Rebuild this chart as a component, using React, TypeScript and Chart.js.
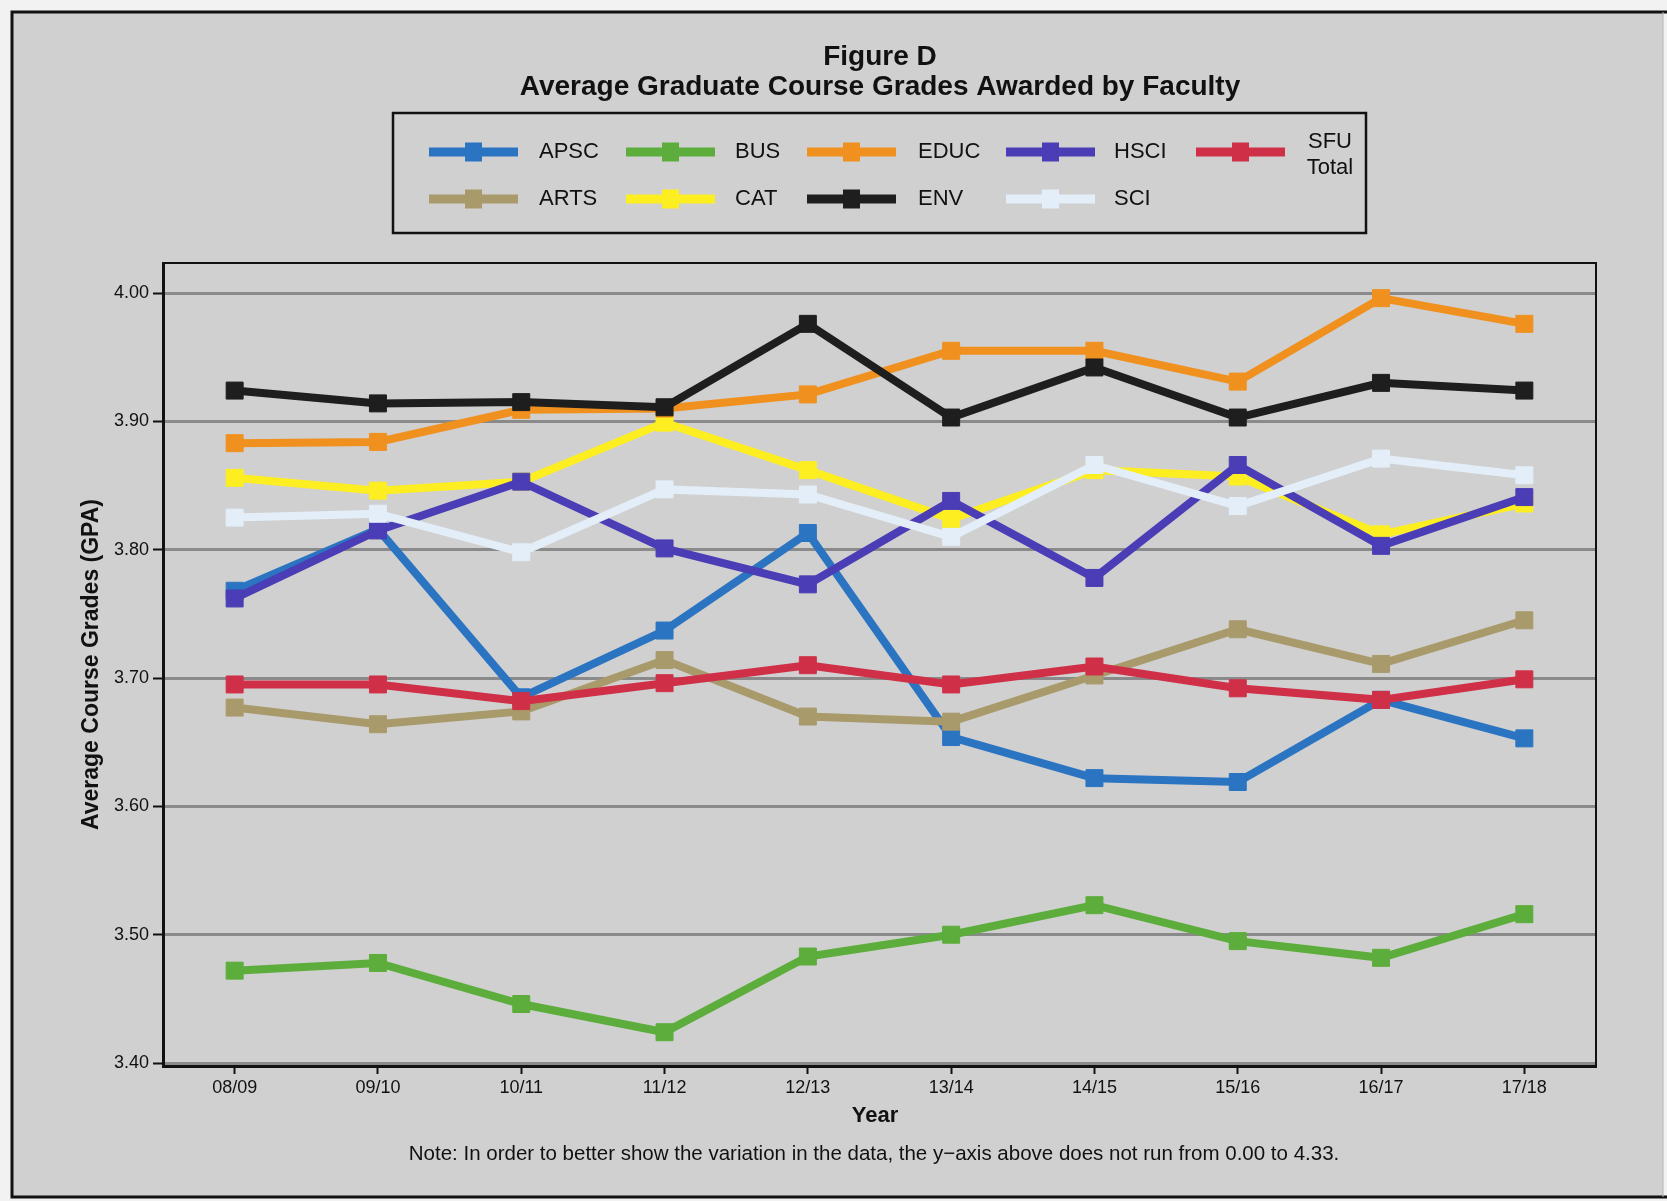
import { useEffect, useRef } from "react";
import { Chart, registerables } from "chart.js";

Chart.register(...registerables);

// ---------- data ----------
const years = ["08/09", "09/10", "10/11", "11/12", "12/13", "13/14", "14/15", "15/16", "16/17", "17/18"];

const apsc = [3.768, 3.816, 3.685, 3.737, 3.813, 3.654, 3.622, 3.619, 3.683, 3.653];
const arts = [3.677, 3.664, 3.674, 3.714, 3.670, 3.666, 3.702, 3.738, 3.711, 3.745];
const bus = [3.472, 3.478, 3.446, 3.424, 3.483, 3.500, 3.523, 3.495, 3.482, 3.516];
const cat = [3.856, 3.846, 3.853, 3.899, 3.862, 3.824, 3.862, 3.857, 3.812, 3.836];
const educ = [3.883, 3.884, 3.909, 3.910, 3.921, 3.955, 3.955, 3.931, 3.996, 3.976];
const env = [3.924, 3.914, 3.915, 3.911, 3.976, 3.903, 3.942, 3.903, 3.930, 3.924];
const hsci = [3.762, 3.815, 3.853, 3.801, 3.773, 3.838, 3.778, 3.866, 3.803, 3.841];
const sci = [3.825, 3.828, 3.798, 3.847, 3.843, 3.810, 3.866, 3.834, 3.871, 3.858];
const sfuTotal = [3.695, 3.695, 3.682, 3.696, 3.710, 3.695, 3.709, 3.692, 3.683, 3.699];

const seriesNames = ["APSC", "ARTS", "BUS", "CAT", "EDUC", "ENV", "HSCI", "SCI", "SFU Total"];
const seriesValues = [apsc, arts, bus, cat, educ, env, hsci, sci, sfuTotal];
const seriesColors = [
  "#2b74c2", // APSC
  "#a99a6c", // ARTS
  "#5cad3b", // BUS
  "#fdee22", // CAT
  "#f0901e", // EDUC
  "#1e1e1e", // ENV
  "#4b3db5", // HSCI
  "#e3eef8", // SCI
  "#cf3048", // SFU Total
];

const yTicks = [3.4, 3.5, 3.6, 3.7, 3.8, 3.9, 4.0];

const titleLine1 = "Figure D";
const titleLine2 = "Average Graduate Course Grades Awarded by Faculty";
const xTitle = "Year";
const yTitle = "Average Course Grades (GPA)";
const noteText = "Note: In order to better show the variation in the data, the y\u2212axis above does not run from 0.00 to 4.33.";

// ---------- layout constants ----------
const W = 1667;
const H = 1201;
const BG = "#d0d0d0";
const FONT = "'Liberation Sans', Arial, Helvetica, sans-serif";

const legendSymbolX = [429, 626, 807, 1006, 1196];
const legendTextX = [539, 735, 918, 1114, 1306];
const legendRowY = [152, 199];

const decorPlugin = {
  id: "decor",
  beforeDraw(chart: any) {
    const ctx = chart.ctx;
    ctx.save();
    ctx.fillStyle = "#f2f2f2";
    ctx.fillRect(0, 0, W, H);
    ctx.fillStyle = BG;
    ctx.fillRect(12, 12, 1651, 1185);
    ctx.restore();
  },
  afterDraw(chart: any) {
    const ctx = chart.ctx;
    const area = chart.chartArea;
    ctx.save();

    // outer frame
    ctx.strokeStyle = "#111";
    ctx.lineWidth = 3;
    ctx.beginPath();
    ctx.moveTo(1667, 12);
    ctx.lineTo(12, 12);
    ctx.lineTo(12, 1197);
    ctx.lineTo(1667, 1197);
    ctx.stroke();
    ctx.strokeStyle = "#b4b4b4";
    ctx.lineWidth = 1;
    ctx.beginPath();
    ctx.moveTo(1663, 12);
    ctx.lineTo(1663, 1197);
    ctx.stroke();

    // plot frame (top & right)
    ctx.strokeStyle = "#111";
    ctx.lineWidth = 2;
    ctx.beginPath();
    ctx.moveTo(area.left, area.top);
    ctx.lineTo(area.right, area.top);
    ctx.lineTo(area.right, area.bottom);
    ctx.stroke();

    // titles
    ctx.fillStyle = "#111";
    ctx.textAlign = "center";
    ctx.textBaseline = "alphabetic";
    ctx.font = `bold 28px ${FONT}`;
    ctx.fillText(titleLine1, 880, 65);
    ctx.fillText(titleLine2, 880, 95);

    // legend box
    ctx.strokeStyle = "#111";
    ctx.lineWidth = 2.5;
    ctx.strokeRect(393, 113, 973, 120);

    const datasets = chart.data.datasets;
    datasets.forEach((ds: any, i: number) => {
      const col = Math.floor(i / 2);
      const row = i % 2;
      const x0 = legendSymbolX[col];
      const y = legendRowY[row];
      ctx.strokeStyle = ds.borderColor;
      ctx.lineWidth = 9;
      ctx.lineCap = "butt";
      ctx.beginPath();
      ctx.moveTo(x0, y);
      ctx.lineTo(x0 + 89, y);
      ctx.stroke();
      ctx.fillStyle = ds.borderColor;
      ctx.fillRect(x0 + 44.5 - 8.5, y - 9.5, 17, 19);

      ctx.fillStyle = "#111";
      ctx.textBaseline = "middle";
      ctx.font = `22px ${FONT}`;
      const parts = String(ds.label).split(" ");
      if (parts.length > 1) {
        ctx.textAlign = "center";
        const cx = legendTextX[col] + 24;
        ctx.fillText(parts[0], cx, y - 10);
        ctx.fillText(parts.slice(1).join(" "), cx, y + 16);
      } else {
        ctx.textAlign = "left";
        ctx.fillText(ds.label, legendTextX[col], y);
      }
    });

    // axis titles
    ctx.fillStyle = "#111";
    ctx.textAlign = "center";
    ctx.textBaseline = "middle";
    ctx.font = `bold 22px ${FONT}`;
    ctx.fillText(xTitle, 875, 1116);
    ctx.save();
    ctx.translate(92, (area.top + area.bottom) / 2);
    ctx.rotate(-Math.PI / 2);
    ctx.font = `bold 23px ${FONT}`;
    ctx.fillText(yTitle, 0, 0);
    ctx.restore();

    // note
    ctx.font = `20.5px ${FONT}`;
    ctx.fillText(noteText, 874, 1154);

    ctx.restore();
  },
};

export default function App() {
  const canvasRef = useRef<HTMLCanvasElement | null>(null);

  useEffect(() => {
    if (!canvasRef.current) return;
    const datasets = seriesNames.map((name, i) => ({
      label: name,
      data: seriesValues[i],
      borderColor: seriesColors[i],
      backgroundColor: seriesColors[i],
      pointBackgroundColor: seriesColors[i],
      pointBorderColor: seriesColors[i],
      borderWidth: 8,
      pointStyle: "rect" as const,
      pointRadius: 12,
      pointBorderWidth: 1,
      tension: 0,
      fill: false,
      order: seriesNames.length - i,
    }));

    const chart = new Chart(canvasRef.current, {
      type: "line",
      data: { labels: years, datasets },
      plugins: [decorPlugin],
      options: {
        responsive: false,
        animation: false,
        devicePixelRatio: 1,
        layout: { padding: { left: 103, top: 263, right: 71, bottom: 0 } },
        plugins: {
          legend: { display: false },
          title: { display: false },
          tooltip: { enabled: false },
        },
        scales: {
          x: {
            type: "category",
            offset: true,
            grid: {
              drawOnChartArea: false,
              drawTicks: true,
              tickLength: 8,
              tickColor: "#111",
              tickWidth: 2,
            },
            border: { display: true, color: "#111", width: 3 },
            ticks: {
              color: "#111",
              font: { family: FONT, size: 18 },
              padding: 3,
              maxRotation: 0,
              autoSkip: false,
            },
            afterFit: (scale: any) => {
              scale.height = 135;
            },
          },
          y: {
            type: "linear",
            min: 3.3977,
            max: 4.0234,
            grid: {
              color: "#8a8a8a",
              lineWidth: 3,
              drawTicks: true,
              tickLength: 10,
              tickColor: "#111",
              tickWidth: 2,
            },
            border: { display: true, color: "#111", width: 3 },
            afterBuildTicks: (scale: any) => {
              scale.ticks = yTicks.map((v) => ({ value: v }));
            },
            ticks: {
              color: "#111",
              font: { family: FONT, size: 18 },
              padding: 4,
              callback: (v: any) => Number(v).toFixed(2),
            },
            afterFit: (scale: any) => {
              scale.width = 60;
            },
          },
        },
      },
    });
    return () => chart.destroy();
  }, []);

  return (
    <div style={{ position: "absolute", left: 0, top: 0, width: W, height: H }}>
      <canvas ref={canvasRef} width={W} height={H} style={{ display: "block", width: W, height: H }} />
    </div>
  );
}
